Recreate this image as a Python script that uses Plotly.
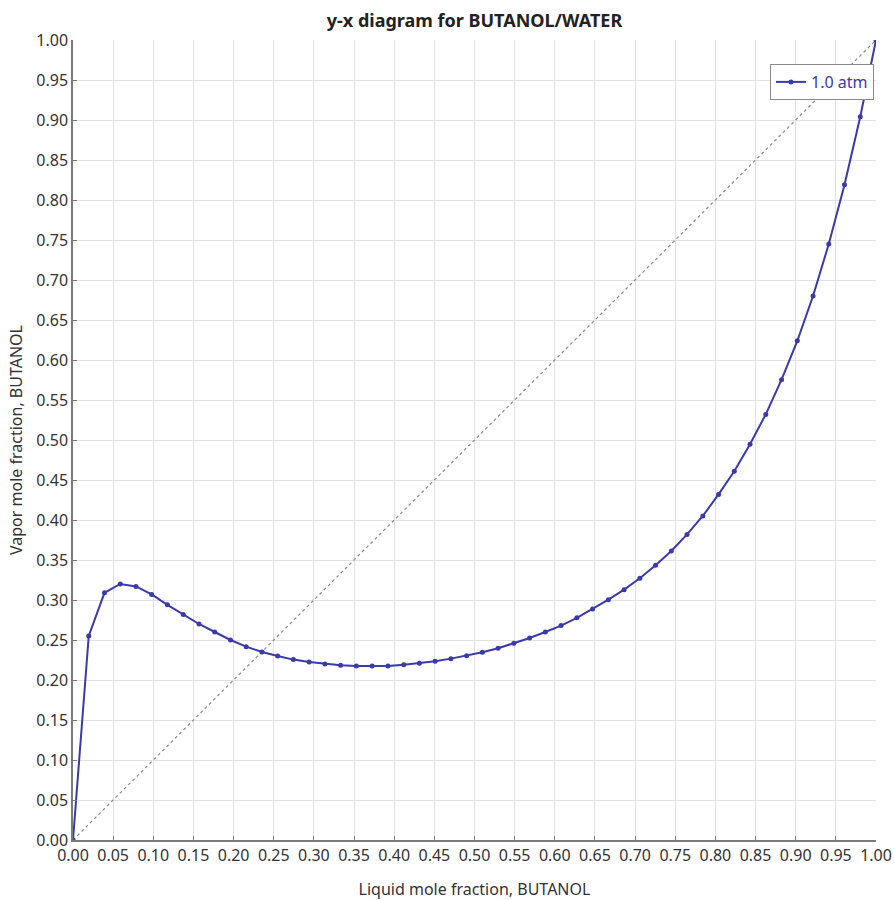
import plotly.graph_objects as go

# Liquid mole fraction of butanol (x) and vapor mole fraction (y) at 1.0 atm
x_liquid = [0.0, 0.0196, 0.0392, 0.0588, 0.0784, 0.0980, 0.1176, 0.1373, 0.1569, 0.1765,
            0.1961, 0.2157, 0.2353, 0.2549, 0.2745, 0.2941, 0.3137, 0.3333, 0.3529, 0.3725,
            0.3922, 0.4118, 0.4314, 0.4510, 0.4706, 0.4902, 0.5098, 0.5294, 0.5490, 0.5686,
            0.5882, 0.6078, 0.6275, 0.6471, 0.6667, 0.6863, 0.7059, 0.7255, 0.7451, 0.7647,
            0.7843, 0.8039, 0.8235, 0.8431, 0.8627, 0.8824, 0.9020, 0.9216, 0.9412, 0.9608,
            0.9804, 1.0]
y_vapor = [0.000, 0.255, 0.309, 0.320, 0.317, 0.307, 0.294, 0.282, 0.270, 0.260,
           0.250, 0.2417, 0.235, 0.230, 0.2255, 0.2225, 0.220, 0.2183, 0.2175, 0.2175,
           0.2175, 0.219, 0.221, 0.2233, 0.2267, 0.2304, 0.2346, 0.2396, 0.2458, 0.2525,
           0.260, 0.268, 0.2777, 0.2888, 0.3004, 0.3129, 0.3271, 0.3434, 0.3613, 0.382,
           0.405, 0.432, 0.461, 0.4946, 0.532, 0.5754, 0.624, 0.680, 0.745, 0.819,
           0.904, 1.000]
diag_x = [0.0, 1.0]
diag_y = [0.0, 1.0]

series_name = "1.0 atm"
title_text = "y-x diagram for BUTANOL/WATER"
x_title = "Liquid mole fraction, BUTANOL"
y_title = "Vapor mole fraction, BUTANOL"

blue = "#3a3aab"
font_family = "Noto Sans, Open Sans, sans-serif"

fig = go.Figure()
fig.add_trace(go.Scatter(
    x=diag_x, y=diag_y, mode="lines",
    line=dict(color="#8a8a8a", width=1.2, dash="dot"),
    showlegend=False, hoverinfo="skip"))
fig.add_trace(go.Scatter(
    x=x_liquid, y=y_vapor, mode="lines+markers", name=series_name,
    line=dict(color=blue, width=2),
    marker=dict(color=blue, size=5)))

axis_common = dict(
    range=[0, 1], dtick=0.05, tick0=0, tickformat=".2f",
    showgrid=True, gridcolor="#e2e2e2", gridwidth=1,
    zeroline=False, showline=True, linecolor="#7a7a7a", linewidth=1.5,
    ticks="inside", ticklen=4, tickcolor="#7a7a7a",
    tickfont=dict(family=font_family, size=16, color="#333333"),
    title_font=dict(family=font_family, size=16, color="#333333"),
    automargin=False,
)

fig.update_xaxes(**axis_common, title_text=x_title, title_standoff=26)
fig.update_yaxes(**axis_common, title_text=y_title, title_standoff=10)

fig.update_layout(
    width=894, height=900,
    margin=dict(l=73, r=18, t=40, b=60),
    paper_bgcolor="white", plot_bgcolor="white",
    title=dict(text="<b>" + title_text + "</b>", x=(73 + 876) / 2 / 894, xanchor="center",
               y=1 - 21 / 900, yanchor="middle",
               font=dict(family=font_family, size=18, color="#222222")),
    legend=dict(x=0.9975, xanchor="right", y=0.97, yanchor="top",
                bgcolor="white", bordercolor="#8a8a8a", borderwidth=1,
                itemwidth=30,
                font=dict(family=font_family, size=16, color=blue)),
    showlegend=True,
)

fig.write_html("out.html")
